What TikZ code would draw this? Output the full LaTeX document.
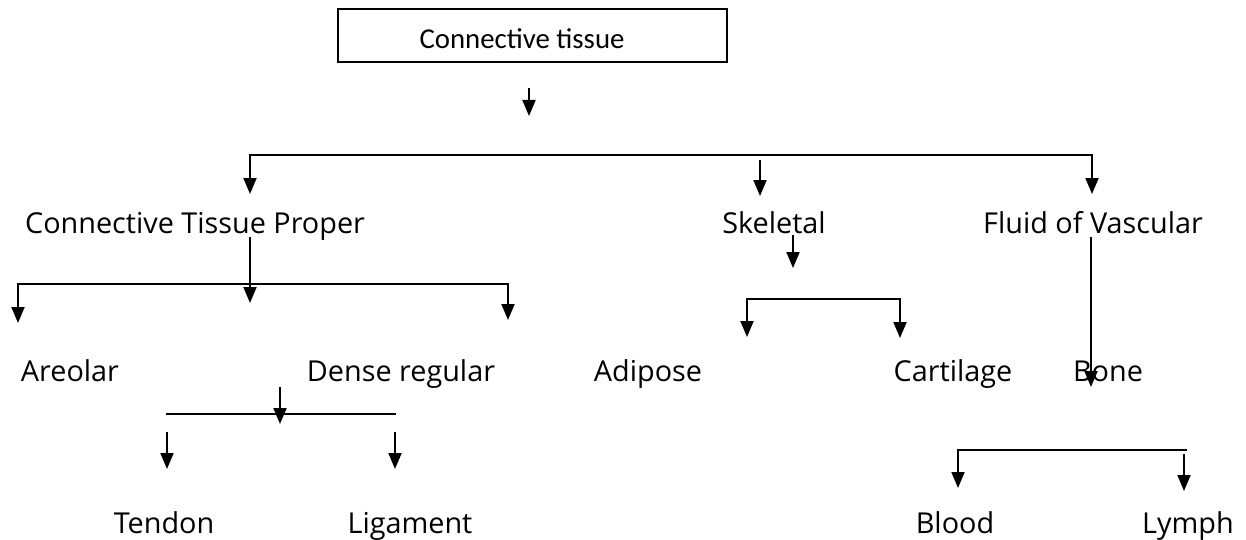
\documentclass[tikz,border=0pt]{standalone}
\usepackage{fontspec}
\setmainfont{Open Sans}
\newfontfamily\boxfont{Carlito}
\usetikzlibrary{arrows.meta}

\begin{document}
\begin{tikzpicture}[x=0.5pt,y=-0.5pt,line width=0.95pt,
    tip/.style={-{Triangle[width=6.5pt,length=8pt]}},
    tips/.style={{Triangle[width=6.5pt,length=8pt]}-{Triangle[width=6.5pt,length=8pt]}},
    lbl/.style={font=\fontsize{14.4}{17}\selectfont, anchor=base, inner sep=0pt},
    topbox/.style={draw, line width=1pt, minimum width=194.5pt, minimum height=26.5pt,
      inner sep=0pt}]
    \useasboundingbox (0,0) rectangle (1246,540);

    % Top box
    \node[topbox] (ct) at (532,35.5) {};
    \node[lbl, font=\boxfont\fontsize{14.4}{17}\selectfont] (cttext) at (522,49) {Connective tissue};

    % Level 2 labels
    \node[lbl] (proper) at (195,233) {Connective Tissue Proper};
    \node[lbl] (skel) at (774,233) {Skeletal};
    \node[lbl] (fluid) at (1093,233) {Fluid of Vascular};

    % Level 3 labels
    \node[lbl] (areolar) at (70,381) {Areolar};
    \node[lbl] (dense) at (401,381) {Dense regular};
    \node[lbl] (adipose) at (648,381) {Adipose};
    \node[lbl] (cartilage) at (953,381) {Cartilage};
    \node[lbl] (bone) at (1108,381) {Bone};

    % Level 4 labels
    \node[lbl] (tendon) at (164,533) {Tendon};
    \node[lbl] (ligament) at (410,533) {Ligament};
    \node[lbl] (blood) at (955,533) {Blood};
    \node[lbl] (lymph) at (1188,533) {Lymph};

    % Junction points
    \coordinate (ctS) at (529,88);  \coordinate (ctE) at (529,116);
    \coordinate (barA) at (250,155); \coordinate (barB) at (1092,155);
    \coordinate (properIn) at (250,194); \coordinate (fluidIn) at (1092,194);
    \coordinate (skelS) at (760,160); \coordinate (skelIn) at (760,196);

    \coordinate (properS) at (250,237); \coordinate (properE) at (250,303);
    \coordinate (barC) at (18,284); \coordinate (barD) at (508,284);
    \coordinate (areolarIn) at (18,323); \coordinate (denseIn) at (508,320);

    \coordinate (skelOutS) at (793,235); \coordinate (skelOutE) at (793,268);
    \coordinate (barE) at (747,299); \coordinate (barF) at (900,299);
    \coordinate (adiposeIn) at (747,337); \coordinate (cartIn) at (900,338);

    \coordinate (fluidS) at (1091,237); \coordinate (fluidE) at (1091,387);

    \coordinate (denseS) at (280,387); \coordinate (denseE) at (280,424);
    \coordinate (barG) at (166,414); \coordinate (barH) at (396,414);
    \coordinate (tendonS) at (167,432); \coordinate (tendonIn) at (167,469);
    \coordinate (ligS) at (395,432); \coordinate (ligIn) at (395,469);

    \coordinate (barI) at (958,450); \coordinate (barJ) at (1187,450);
    \coordinate (bloodIn) at (958,488);
    \coordinate (lymphS) at (1184,454); \coordinate (lymphIn) at (1184,491);

    % Connectors
    \draw[tip] (ctS) -- (ctE);
    \draw[tips] (properIn) -- (barA) -- (barB) -- (fluidIn);
    \draw[tip] (skelS) -- (skelIn);

    \draw[tip] (properS) -- (properE);
    \draw[tips] (areolarIn) -- (barC) -- (barD) -- (denseIn);

    \draw[tip] (skelOutS) -- (skelOutE);
    \draw[tips] (adiposeIn) -- (barE) -- (barF) -- (cartIn);

    \draw[tip] (fluidS) -- (fluidE);

    \draw[tip] (denseS) -- (denseE);
    \draw (barG) -- (barH);
    \draw[tip] (tendonS) -- (tendonIn);
    \draw[tip] (ligS) -- (ligIn);

    \draw[tip] (barJ) -- (barI) -- (bloodIn);
    \draw[tip] (lymphS) -- (lymphIn);
\end{tikzpicture}
\end{document}
